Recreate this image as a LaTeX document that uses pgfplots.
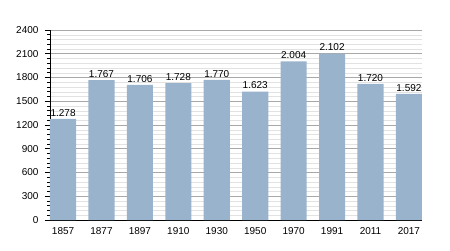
\documentclass[border=0pt]{standalone}
\usepackage{pgfplots}
\pgfplotsset{compat=1.18}
\usepackage{fontspec}
\setmainfont{Liberation Sans}
\definecolor{barblue}{HTML}{99B3CC}
\definecolor{majgrid}{HTML}{A8A8A8}
\definecolor{mingrid}{HTML}{E2E2E2}
\begin{document}
\fontsize{10}{12}\selectfont
\begin{tikzpicture}
\useasboundingbox (-50pt,-30pt) rectangle (400pt,220pt);
\begin{axis}[
  at={(0,0)}, anchor=south west,
  scale only axis, width=372pt, height=190pt,
  xmin=-0.34, xmax=9.34, ymin=0, ymax=2400,
  xtick={0,...,9},
  xticklabels={1857,1877,1897,1910,1930,1950,1970,1991,2011,2017},
  ytick={0,300,...,2400},
  minor y tick num=4,
  axis x line*=bottom, axis y line*=left,
  x axis line style={-}, y axis line style={-},
  xtick style={draw=none},
  ytick style={black, line width=0.8pt},
  tick align=outside,
  major tick length=5pt, minor tick length=3pt,
  ymajorgrids, yminorgrids,
  major grid style={majgrid, line width=0.6pt},
  minor grid style={mingrid, line width=0.5pt},
  axis line style={black, line width=0.8pt},
  tick label style={font=\fontsize{10}{12}\selectfont},
  /pgf/number format/assume math mode=true,
  /pgf/number format/1000 sep={},
  yticklabel style={xshift=-3pt},
  xticklabel style={yshift=1pt},
  axis on top=false,
  bar width=0.68,
  nodes near coords,
  point meta=explicit symbolic,
  every node near coord/.append style={font=\fontsize{10}{12}\selectfont, black, yshift=-1pt},
]
\addplot[ybar, fill=barblue, draw=none] table[x=x, y=y, meta=l] {
x y l
0 1278 1.278
1 1767 1.767
2 1706 1.706
3 1728 1.728
4 1770 1.770
5 1623 1.623
6 2004 2.004
7 2102 2.102
8 1720 1.720
9 1592 1.592
};
\end{axis}
\end{tikzpicture}
\end{document}
